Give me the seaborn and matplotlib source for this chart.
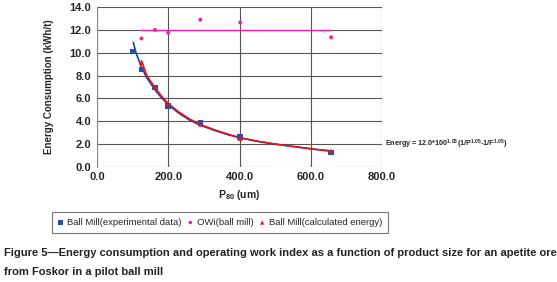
import matplotlib
matplotlib.use("Agg")
import matplotlib.pyplot as plt
import seaborn as sns
import pandas as pd

# Data
p80_exp = [101, 125, 163, 200, 290, 402, 657]
energy_exp = [10.1, 8.55, 6.95, 5.35, 3.85, 2.6, 1.25]

p80_owi = [125, 163, 200, 290, 402, 657]
owi = [11.25, 12.0, 11.75, 12.9, 12.65, 11.35]
owi_mean_x = [125, 657]
owi_mean_y = [12.0, 12.0]

p80_calc = [125, 163, 200, 290, 402, 657]
energy_calc = [9.15, 6.95, 5.5, 3.75, 2.5, 1.4]

# trend curves
curve_blue_x = [102, 110, 125, 140, 163, 180, 200, 230, 260, 290, 330, 370, 402, 450, 500, 560, 610, 657]
curve_blue_y = [10.9, 9.95, 8.75, 7.8, 6.75, 6.1, 5.45, 4.7, 4.1, 3.65, 3.2, 2.8, 2.55, 2.25, 2.0, 1.75, 1.55, 1.4]
curve_red_x = [125, 140, 163, 180, 200, 230, 260, 290, 330, 370, 402, 450, 500, 560, 610, 657]
curve_red_y = [9.3, 8.0, 6.95, 6.25, 5.55, 4.8, 4.2, 3.72, 3.25, 2.85, 2.55, 2.25, 2.0, 1.75, 1.55, 1.38]

sns.set_style("white")
plt.rcParams['font.family'] = ['Liberation Sans', 'DejaVu Sans']
plt.rcParams['mathtext.fontset'] = 'custom'
plt.rcParams['mathtext.bf'] = 'Liberation Sans:bold'
plt.rcParams['mathtext.default'] = 'bf'

fig = plt.figure(figsize=(5.57, 2.82), dpi=100)
ax = fig.add_axes([0.174, 0.408, 0.512, 0.567])

sns.lineplot(x=curve_blue_x, y=curve_blue_y, ax=ax, color='#1f3f9f', lw=1.2, sort=False)
sns.lineplot(x=curve_red_x, y=curve_red_y, ax=ax, color='#e8141c', lw=1.2, sort=False)
sns.lineplot(x=owi_mean_x, y=owi_mean_y, ax=ax, color='#f0209a', lw=1.0)

sns.scatterplot(x=p80_exp, y=energy_exp, ax=ax, marker='s', color='#2b4ea0', s=16,
                edgecolor='none', label='Ball Mill(experimental data)', zorder=4)
sns.scatterplot(x=p80_owi, y=owi, ax=ax, marker='o', color='#f0209a', s=8,
                edgecolor='none', label='OWi(ball mill)', zorder=4)
sns.scatterplot(x=p80_calc, y=energy_calc, ax=ax, marker='^', color='#e8141c', s=12,
                edgecolor='none', label='Ball Mill(calculated energy)', zorder=5)

ax.set_xlim(0, 800)
ax.set_ylim(0, 14)
ax.set_xticks([0, 200, 400, 600, 800])
ax.set_yticks([0, 2, 4, 6, 8, 10, 12, 14])
ax.set_xticklabels(['0.0', '200.0', '400.0', '600.0', '800.0'], fontsize=8, fontweight='bold')
ax.set_yticklabels(['%.1f' % v for v in [0, 2, 4, 6, 8, 10, 12, 14]], fontsize=8, fontweight='bold')
ax.tick_params(length=0, pad=4)
ax.grid(True, color='#555555', lw=0.8)
for s in ax.spines.values():
    s.set_visible(False)
ax.spines['left'].set_visible(True)
ax.spines['left'].set_color('#888888')
ax.set_ylabel('Energy Consumption (kWh/t)', fontsize=7, fontweight='bold', labelpad=11)
ax.set_xlabel('P$_{80}$ (um)', fontsize=7.5, fontweight='bold', labelpad=4)

ax.text(1.01, 0.14, 'Energy = 12.0*100$^{1.05}$(1/P$^{1.05}$-1/F$^{1.05}$)', transform=ax.transAxes,
        fontsize=5.2, fontweight='bold', va='center', ha='left')

leg = ax.legend(loc='center', bbox_to_anchor=(0.395, 0.211), bbox_transform=fig.transFigure,
                ncol=3, fontsize=6.8, frameon=True, fancybox=False, handlelength=0.6,
                handletextpad=0.4, columnspacing=0.6, borderpad=0.6, markerscale=0.9)
leg.get_frame().set_edgecolor('#555555')
leg.get_frame().set_linewidth(0.8)

fig.text(0.008, 0.104, 'Figure 5\u2014Energy consumption and operating work index as a function of product size for an apetite ore',
         fontsize=8.0, fontweight='bold', color='#222222', va='center')
fig.text(0.008, 0.037, 'from Foskor in a pilot ball mill',
         fontsize=8.0, fontweight='bold', color='#222222', va='center')

fig.savefig('out.png', dpi=100)
